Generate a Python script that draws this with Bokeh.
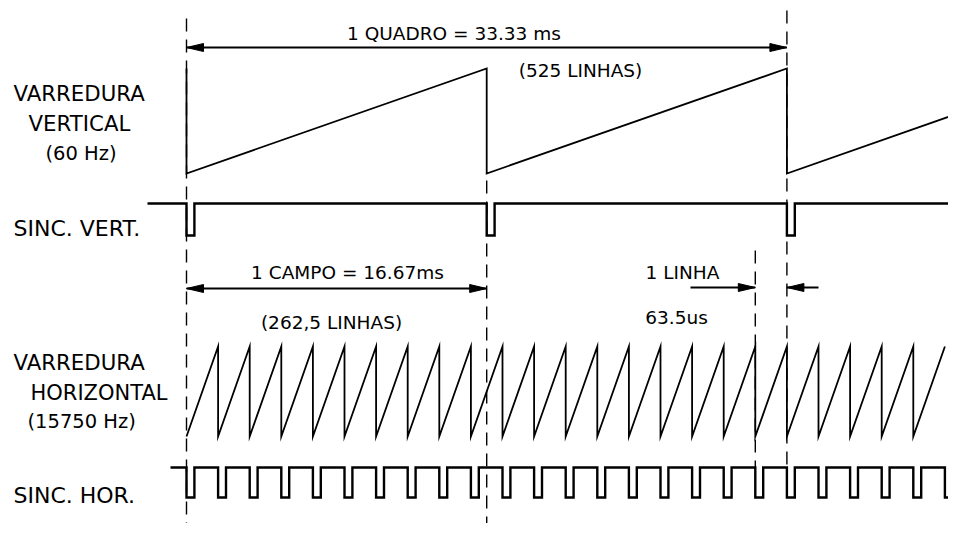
from bokeh.plotting import figure
from bokeh.models import Range1d
from bokeh.core.properties import value
from bokeh.embed import file_html
from bokeh.resources import INLINE

# ---------------- data (time axis in units of one drawn horizontal line) ----------------
h_line_starts = list(range(0, 25))      # horizontal retrace / sync instants (lines)
h_sweep_end = 24                         # last horizontal ramp ends here, at peak
v_field_starts = [0, 9.5, 19]            # vertical retrace / sync instants (field = 9.5 drawn lines)
v_saw_end_level = 0.58                   # level of the vertical ramp at the right edge
sync_width = 0.25                        # sync pulse width (lines)
marker_times = [0, 9.5, 18, 19]          # dashed reference lines

row_labels = ["VARREDURA", "VERTICAL", "(60 Hz)", "SINC. VERT.",
              "VARREDURA", "HORIZONTAL", "(15750 Hz)", "SINC. HOR."]
quadro_texts = ["1 QUADRO = 33.33 ms", "(525 LINHAS)"]
campo_texts = ["1 CAMPO = 16.67ms", "(262,5 LINHAS)"]
linha_texts = ["1 LINHA", "63.5us"]

# ---------------- layout (reference pixel geometry) ----------------
PX0 = 186.0          # pixel x of t = 0
PXT = 31.6           # pixels per line
def X(px):
    return (px - PX0) / PXT

W, H = 948, 523
x_left, x_right = X(0), X(W)

FONT = value("DejaVu Sans")

p = figure(width=W, height=H, x_range=Range1d(x_left, x_right), y_range=Range1d(H, 0),
           output_backend="svg", toolbar_location=None, min_border=0,
           x_axis_location=None, y_axis_location=None)
p.grid.visible = False
p.outline_line_color = None
p.background_fill_color = "white"
p.border_fill_color = "white"

def level_to_y(levels, low_y, high_y):
    return [low_y + l * (high_y - low_y) for l in levels]

# ---- vertical sawtooth ----
vx, vl = [v_field_starts[0], v_field_starts[0]], [1.0, 0.0]
for f in v_field_starts[1:]:
    vx += [f, f]
    vl += [1.0, 0.0]
vx.append(X(960))
vl.append(v_saw_end_level)
p.line(vx, level_to_y(vl, 173, 68), line_color="black", line_width=1.8, line_join="miter")

# ---- vertical sync ----
sx, sl = [X(147)], [1]
for f in v_field_starts:
    sx += [f, f, f + sync_width, f + sync_width]
    sl += [1, 0, 0, 1]
sx.append(X(970))
sl.append(1)
p.line(sx, level_to_y(sl, 235, 203), line_color="black", line_width=2.4, line_join="miter")

# ---- horizontal sawtooth ----
hx, hl = [h_line_starts[0]], [0.0]
for k in h_line_starts[1:]:
    if k == h_sweep_end:
        hx.append(k)
        hl.append(1.0)
    else:
        hx += [k, k]
        hl += [1.0, 0.0]
p.line(hx, level_to_y(hl, 436, 346), line_color="black", line_width=1.8, line_join="miter")

# ---- horizontal sync ----
gx, gl = [X(170)], [1]
for k in h_line_starts:
    gx += [k, k, k + sync_width, k + sync_width]
    gl += [1, 0, 0, 1]
gx.append(X(970))
gl.append(1)
p.line(gx, level_to_y(gl, 497, 467), line_color="black", line_width=2.4, line_join="miter")

# ---- dashed reference lines ----
dash_extent = {0: (18, 545), 9.5: (180, 545), 18: (250, 467), 19: (10, 467)}
for t in marker_times:
    y0, y1 = dash_extent[t]
    p.line([t, t], [y0, y1], line_color="black", line_width=1.4, line_dash="13 8")

# ---- arrows ----
HEAD_L, HEAD_W = 17.0, 4.0
def arrow_head(t_tip, y, direction):
    base = t_tip - direction * HEAD_L / PXT
    p.patch([t_tip, base, base], [y, y - HEAD_W, y + HEAD_W], fill_color="black",
            line_color="black", line_width=1)

def dim_line(t0, t1, y):
    p.line([t0, t1], [y, y], line_color="black", line_width=2)
    arrow_head(t0, y, -1)
    arrow_head(t1, y, +1)

dim_line(v_field_starts[0], v_field_starts[2], 47)
dim_line(v_field_starts[0], v_field_starts[1], 288)

# 1 LINHA: arrows from outside pointing inward
p.line([X(690), marker_times[2]], [287, 287], line_color="black", line_width=2)
arrow_head(marker_times[2], 287, +1)
p.line([X(818), marker_times[3]], [287, 287], line_color="black", line_width=2)
arrow_head(marker_times[3], 287, -1)

# ---- texts ----
def txt(px, y, s, size, align="center"):
    p.text(x=[X(px)], y=[y], text=[s], text_font=FONT, text_font_size=size,
           text_align=align, text_baseline="alphabetic", text_color="black")

txt(453.5, 33, quadro_texts[0], "18.5px")
txt(580, 70, quadro_texts[1], "18.5px")
txt(347, 272, campo_texts[0], "18.5px")
txt(331, 322, campo_texts[1], "18.5px")
txt(682, 272, linha_texts[0], "18.5px")
txt(676, 317, linha_texts[1], "18.5px")

txt(13, 93, row_labels[0], "21.3px", "left")
txt(28, 123, row_labels[1], "21.3px", "left")
txt(45, 153, row_labels[2], "19.5px", "left")
txt(13, 228, row_labels[3], "22px", "left")
txt(13, 362, row_labels[4], "21.3px", "left")
txt(30, 392, row_labels[5], "21px", "left")
txt(27, 421, row_labels[6], "19.5px", "left")
txt(13, 495, row_labels[7], "22px", "left")

open("out.html", "w").write(file_html(p, INLINE))
